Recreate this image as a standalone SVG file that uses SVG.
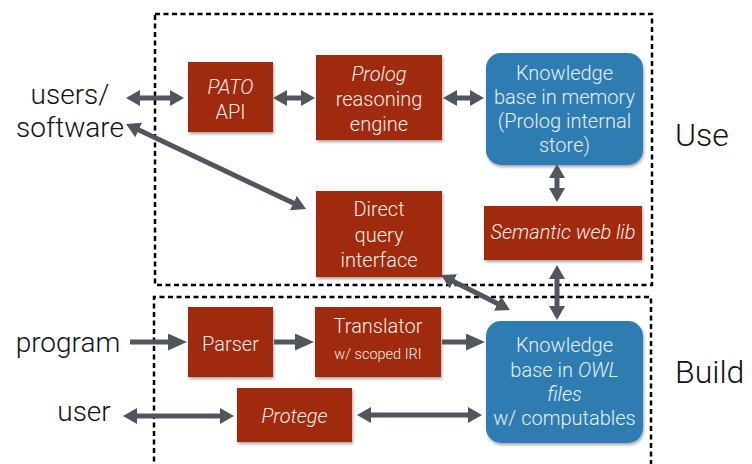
<svg xmlns="http://www.w3.org/2000/svg" width="752" height="464" viewBox="0 0 752 464">
  <defs>
    <style>
      .zone { fill: none; stroke: #000; stroke-width: 2.5; stroke-dasharray: 5 3.5; }
      .red { fill: #9F290C; filter: url(#shadow); }
      .blue { fill: #2F7CB2; filter: url(#shadow); }
      .t { font-family: Roboto, "Open Sans", "Liberation Sans", sans-serif; font-weight: 300; text-anchor: middle; }
      .in { fill: #F4ECE8; font-size: 20px; }
      .inb { fill: #E6EFF6; font-size: 20px; }
      .out { fill: #111; font-size: 28px; }
      .side { fill: #111; font-size: 32px; text-anchor: start; }
      .it { font-style: italic; }
      .link { stroke: #50565D; stroke-width: 5; fill: none; }
      .both { marker-start: url(#head); marker-end: url(#head); }
      .one { marker-end: url(#bighead); }
    </style>
    <filter id="shadow" x="-10%" y="-10%" width="130%" height="130%">
      <feDropShadow dx="1" dy="2" stdDeviation="1.5" flood-color="#000" flood-opacity="0.35"/>
    </filter>
    <marker id="head" viewBox="0 0 14 16" refX="1" refY="8" markerWidth="14" markerHeight="16" markerUnits="userSpaceOnUse" orient="auto-start-reverse">
      <path d="M0,0 L14,8 L0,16 Z" fill="#50565D"/>
    </marker>
    <marker id="bighead" viewBox="0 0 19 17" refX="1" refY="8.5" markerWidth="19" markerHeight="17" markerUnits="userSpaceOnUse" orient="auto">
      <path d="M0,0 L19,8.5 L0,17 Z" fill="#50565D"/>
    </marker>
  </defs>

  <!-- dashed zones -->
  <g id="zones">
    <rect class="zone" x="155" y="14" width="497" height="271"/>
    <path class="zone" d="M154,470 V297 H651 V470"/>
    <text class="t side" x="675" y="146">Use</text>
    <text class="t side" x="675" y="383">Build</text>
  </g>

  <!-- external actors -->
  <g id="users-software">
    <text class="t out" x="70" y="104">users/</text>
    <text class="t out" x="70" y="137">software</text>
  </g>
  <g id="program">
    <text class="t out" x="68" y="352">program</text>
  </g>
  <g id="user">
    <text class="t out" x="84" y="421">user</text>
  </g>

  <!-- Use nodes -->
  <g id="pato-api">
    <rect class="red" x="188" y="62" width="85" height="70"/>
    <text class="t in it" x="230.5" y="94">PATO</text>
    <text class="t in" x="230.5" y="119">API</text>
  </g>
  <g id="prolog-engine">
    <rect class="red" x="316" y="55" width="126" height="85"/>
    <text class="t in it" x="379" y="81">Prolog</text>
    <text class="t in" x="379" y="106">reasoning</text>
    <text class="t in" x="379" y="131">engine</text>
  </g>
  <g id="kb-memory">
    <rect class="blue" x="486" y="53" width="157" height="112" rx="15"/>
    <text class="t inb" x="564.5" y="80">Knowledge</text>
    <text class="t inb" x="564.5" y="104">base in memory</text>
    <text class="t inb" x="564.5" y="128">(Prolog internal</text>
    <text class="t inb" x="564.5" y="152">store)</text>
  </g>
  <g id="direct-query">
    <rect class="red" x="316" y="191" width="126" height="86"/>
    <text class="t in" x="379" y="216">Direct</text>
    <text class="t in" x="379" y="242">query</text>
    <text class="t in" x="379" y="267">interface</text>
  </g>
  <g id="semantic-web-lib">
    <rect class="red" x="484" y="206" width="158" height="54"/>
    <text class="t in it" x="563" y="239">Semantic web lib</text>
  </g>

  <!-- Build nodes -->
  <g id="parser">
    <rect class="red" x="188" y="307" width="85" height="70"/>
    <text class="t in" x="230.5" y="351">Parser</text>
  </g>
  <g id="translator">
    <rect class="red" x="315" y="307" width="126" height="70"/>
    <text class="t in" x="378" y="333">Translator</text>
    <text class="t in" x="378" y="359" style="font-size:14.5px">w/ scoped IRI</text>
  </g>
  <g id="protege">
    <rect class="red" x="237" y="388" width="115" height="54"/>
    <text class="t in it" x="294.5" y="423">Protege</text>
  </g>
  <g id="kb-owl">
    <rect class="blue" x="486" y="321" width="157" height="122" rx="15"/>
    <text class="t inb" x="564.5" y="352">Knowledge</text>
    <text class="t inb" x="564.5" y="377">base in <tspan class="it">OWL</tspan></text>
    <text class="t inb it" x="564.5" y="401">files</text>
    <text class="t inb" x="564.5" y="425">w/ computables</text>
  </g>

  <!-- connectors -->
  <g id="connectors">
    <line class="link both" x1="139" y1="98" x2="171" y2="98"/>
    <line class="link both" x1="286" y1="98" x2="302" y2="98"/>
    <line class="link both" x1="456" y1="98" x2="471" y2="98"/>
    <line class="link both" x1="137.8" y1="129.6" x2="294.3" y2="203.5"/>
    <line class="link both" x1="557" y1="177" x2="557" y2="189"/>
    <line class="link both" x1="557" y1="278" x2="557" y2="307"/>
    <line class="link both" x1="452.6" y1="280.9" x2="498.4" y2="304.1"/>
    <line class="link one" x1="130" y1="342" x2="169" y2="342"/>
    <line class="link one" x1="274" y1="342" x2="296" y2="342"/>
    <line class="link one" x1="442" y1="342" x2="467" y2="342"/>
    <line class="link both" x1="136" y1="416" x2="221" y2="416"/>
    <line class="link both" x1="370" y1="415" x2="469" y2="415"/>
  </g>
</svg>
